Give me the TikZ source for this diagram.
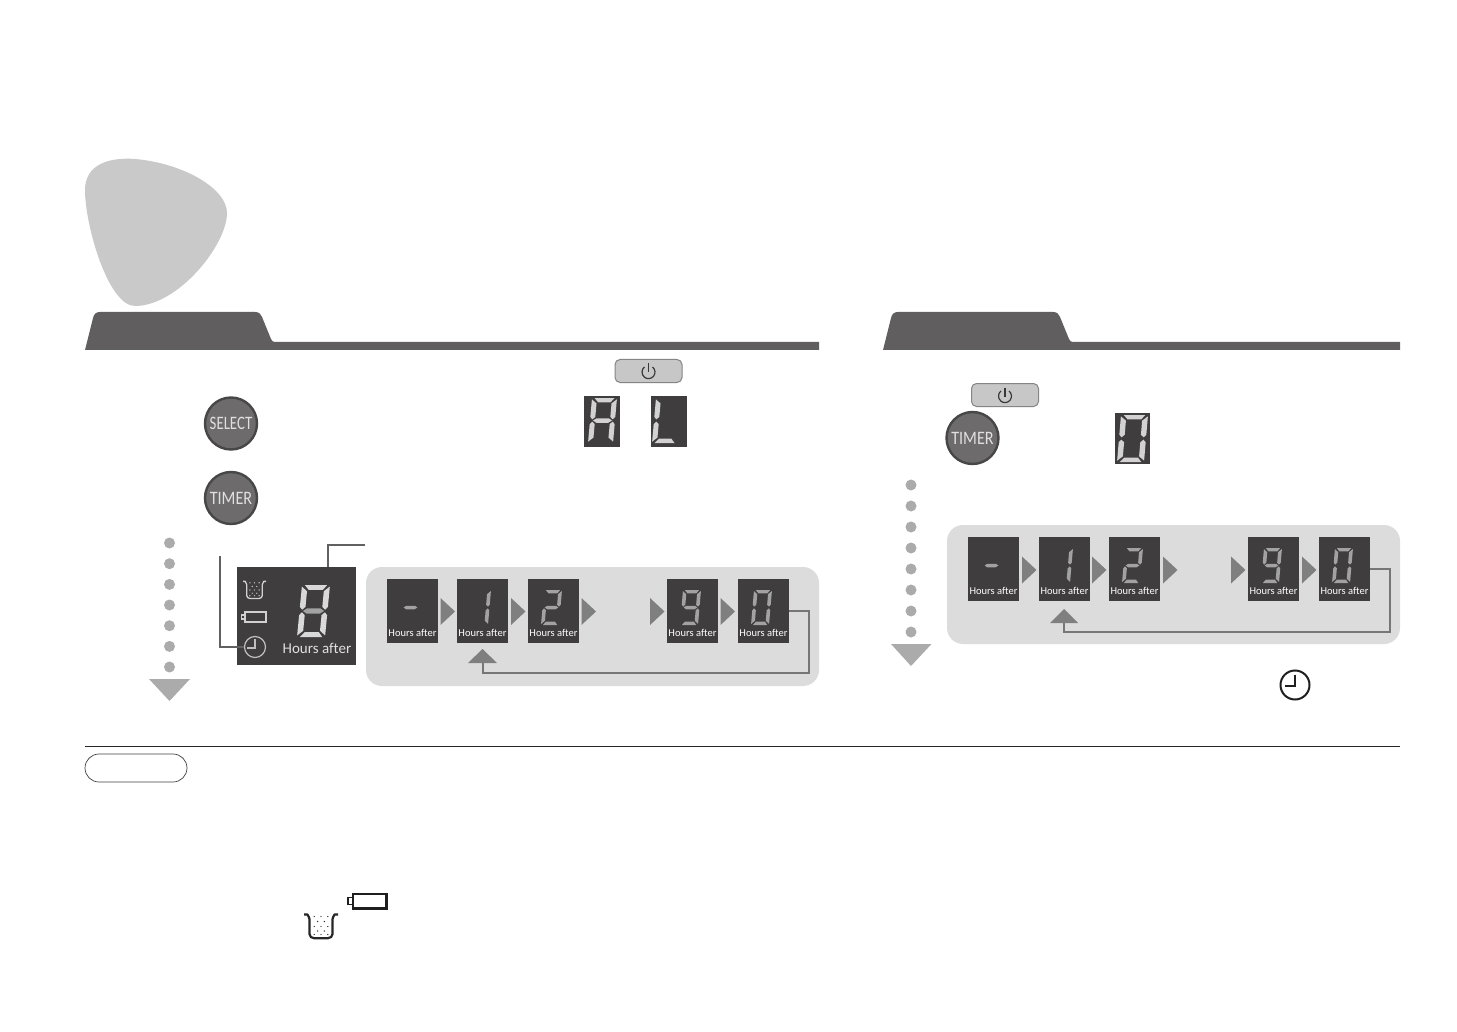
\documentclass[tikz,border=0pt]{standalone}
\usepackage{graphicx}
\usepackage{fontspec}
\setmainfont{Carlito}[Ligatures=CommonOff]
\definecolor{tabgrey}{HTML}{605E5F}
\definecolor{panelbg}{HTML}{3F3D3E}
\definecolor{boxbg}{HTML}{DCDCDC}
\definecolor{tri}{HTML}{7F7F7F}
\definecolor{dotgrey}{HTML}{ABABAB}
\definecolor{loopline}{HTML}{767676}
\definecolor{seglight}{HTML}{D2D2D2}
\definecolor{segdim}{HTML}{A2A2A2}
\tikzset{
  panel/.style={fill=panelbg,inner sep=0pt,outer sep=0pt,anchor=north west},
  smallpanel/.style={panel,minimum width=51pt,minimum height=64pt},
  sgl/.style={panel,minimum width=36pt,minimum height=51pt},
  hourstext/.style={text=white,font=\fontsize{10.5}{10.5}\selectfont,inner sep=0pt},
  roundbutton/.style={circle,fill=tabgrey!92!white,draw=black!72,line width=2.4pt,minimum size=52pt,inner sep=0pt,text=white!88!black,font=\fontsize{19}{19}\selectfont},
  powerbutton/.style={fill=black!22,draw=black!48,line width=1pt,rounded corners=5pt,minimum width=67pt,minimum height=23pt,inner sep=0pt},
  greybox/.style={fill=boxbg,rounded corners=16pt,inner sep=0pt,outer sep=0pt,anchor=north west,minimum width=453pt,minimum height=119pt},
  loop/.style={draw=loopline,line width=2pt},
  callout/.style={draw=black!62,line width=1.4pt},
  dotmark/.style={circle,fill=dotgrey,minimum size=11pt,inner sep=0pt},
  tab/.style={fill=tabgrey}
}
\def\sega{\path[fill=\segcol] (.1,0)--(.9,0)--(.76,.095)--(.26,.095)--cycle;}
\def\segb{\path[fill=\segcol] (1,.03)--(1,.42)--(.91,.475)--(.8,.42)--(.8,.12)--cycle;}
\def\segc{\path[fill=\segcol] (1,.97)--(1,.58)--(.91,.525)--(.8,.58)--(.8,.88)--cycle;}
\def\segd{\path[fill=\segcol] (.1,1)--(.9,1)--(.76,.905)--(.26,.905)--cycle;}
\def\sege{\path[fill=\segcol] (0,.97)--(0,.58)--(.09,.525)--(.2,.58)--(.2,.88)--cycle;}
\def\segf{\path[fill=\segcol] (0,.03)--(0,.42)--(.09,.475)--(.2,.42)--(.2,.12)--cycle;}
\def\segg{\path[fill=\segcol] (.12,.5)--(.26,.45)--(.74,.45)--(.88,.5)--(.74,.55)--(.26,.55)--cycle;}
% x,y,W,S,H,segments,colour
\newcommand\digitglyph[7]{%
  \begin{scope}[shift={(#1,#2)},x={(#3pt,0pt)},y={(-#4pt,-#5pt)}]
    \def\segcol{#7}%
    \foreach \s in {#6}{\csname seg\s\endcsname}
  \end{scope}}
% name,x,y,segments
\newcommand\hourspanel[4]{%
  \node[smallpanel] (#1) at (#2,#3) {};
  \digitglyph{#2+16}{#3+11}{18}{3}{35}{#4}{segdim}
  \node[hourstext] (#1t) at (#2+25.5,#3+54) {Hours after};}
\newcommand\rarrow[2]{\fill[tri] (#1,#2-13.5)--(#1+14.5,#2)--(#1,#2+13.5)--cycle;}
\newcommand\clockicon[5]{% x y r colour width
  \draw[#4,line width=#5pt] (#1,#2) circle (#3pt);
  \draw[#4,line width=#5pt] (#1,#2-.72*#3)--(#1,#2+.1*#3)--(#1-.72*#3,#2+.1*#3);}
\newcommand\poticon[6]{% x y w h colour lw
  \begin{scope}[shift={(#1,#2)},x={(#3pt,0pt)},y={(0pt,-#4pt)}]
    \draw[#5,line width=#6pt,line join=round] (0,0.02)--(.1,.02) to[out=-70,in=90] (.16,.2)--(.16,.8) to[out=-90,in=180] (.3,.97)--(.7,.97) to[out=0,in=-90] (.84,.8)--(.84,.2) to[out=90,in=-110] (.9,.02)--(1,.02);
    \foreach \px/\py in {.3/.1,.5/.1,.7/.1,.4/.3,.6/.3,.3/.5,.5/.5,.7/.5,.4/.68,.6/.68,.3/.82,.5/.82,.7/.82}
      \fill[#5] (\px,\py) circle (.7pt);
  \end{scope}}
\newcommand\powericon[3]{% x y colour
  \draw[#3,line width=1.2pt] (#1+4,#2-5) arc[start angle=52,end angle=-232,radius=6.5pt];
  \draw[#3,line width=1.2pt] (#1,#2-8.5)--(#1,#2+.5);}
\begin{document}
\begin{tikzpicture}[x=1pt,y=-1pt]
\useasboundingbox[fill=white] (0,0) rectangle (1457,1032);
% blob
\fill[black!21] (85,190) .. controls (85,165) and (108,157) .. (135,159) .. controls (182,163) and (227,188) .. (227,213) .. controls (227,245) and (178,306) .. (135,306) .. controls (108,306) and (85,225) .. (85,190) -- cycle;
% header tabs
\fill[tab] (85,350) -- (93,318) .. controls (94,314) and (96,312) .. (100,312) -- (255,312) .. controls (259,312) and (261,314) .. (262,317) -- (271,339) .. controls (272,341) and (273,342) .. (275,342) -- (819,342) -- (819,350) -- cycle;
\fill[tab] (883,350) -- (891,318) .. controls (892,314) and (894,312) .. (898,312) -- (1053,312) .. controls (1057,312) and (1059,314) .. (1060,317) -- (1069,339) .. controls (1070,341) and (1071,342) .. (1073,342) -- (1400,342) -- (1400,350) -- cycle;
% power buttons
\node[powerbutton] (powerL) at (648.5,371) {};
\powericon{648.5}{372}{black!78}
\node[powerbutton] (powerR) at (1005,395) {};
\powericon{1005}{396}{black!78}
% round buttons
\node[roundbutton] (selectL) at (231,423.5) {\raisebox{-1pt}{\scalebox{.78}[1]{SELECT}}};
\node[roundbutton] (timerL) at (231,498) {\raisebox{-1pt}{\scalebox{.85}[1]{TIMER}}};
\node[roundbutton] (timerR) at (972.5,438) {\raisebox{-1pt}{\scalebox{.85}[1]{TIMER}}};
% A, L, 0 displays
\node[sgl] (dispA) at (584,396) {};
\digitglyph{592}{398}{25}{4}{45}{a,b,c,e,f,g}{seglight}
\node[sgl] (dispL) at (651,396) {};
\digitglyph{656}{398}{25}{4}{45}{d,e,f}{seglight}
\node[sgl,minimum width=35pt] (dispZ) at (1115,413) {};
\digitglyph{1121}{415}{27}{4}{47}{a,b,c,d,e,f}{seglight}
% left dots
\foreach \i/\yy in {1/543,2/563.7,3/584.4,4/605,5/625.7,6/646.4,7/667}
  \node[dotmark] (ldot\i) at (169.5,\yy) {};
\fill[dotgrey] (149,679)--(190,679)--(169.5,701)--cycle;
% big panel
\node[panel,minimum width=119pt,minimum height=98pt] (big) at (237,567) {};
\digitglyph{302}{585}{28}{5}{52}{a,b,c,d,e,f}{white!85!black}
\digitglyph{302}{585}{28}{5}{52}{g}{segdim}
\node[text=white!88!black,font=\fontsize{15}{15}\selectfont,inner sep=0pt] (bigt) at (317,648) {Hours after};
\poticon{243}{581}{23}{18}{white!82!black}{1.3}
\draw[white!82!black,line width=1.2pt] (245,612) rectangle (266,622);
\draw[white!82!black,line width=1.2pt] (245,615)--(241.5,615)--(241.5,619)--(245,619);
\clockicon{255}{647}{10.5}{white!75!black}{1.2}
% callouts
\coordinate (calloutA) at (365,545);
\coordinate (calloutB) at (220,556);
\coordinate (clockend) at (244,647);
\draw[callout] (calloutA) -| (328,567);
\draw[callout] (calloutB) |- (clockend);
% left box
\node[greybox] (boxL) at (366,567) {};
\hourspanel{a1}{387}{579}{g}
\hourspanel{a2}{457}{579}{b,c}
\hourspanel{a3}{528}{579}{a,b,d,e,g}
\hourspanel{a4}{667}{579}{a,b,c,d,f,g}
\hourspanel{a5}{738}{579}{a,b,c,d,e,f}
\rarrow{440.5}{611.5}
\rarrow{511}{611.5}
\rarrow{581.5}{611.5}
\rarrow{650}{611.5}
\rarrow{720.5}{611.5}
\fill[tri] (468,663)--(497,663)--(482.5,649)--cycle;
\coordinate (loopendL) at (482.5,663);
\draw[loop] (a5.east) -| (809,673) -| (loopendL);
% right dots
\foreach \i/\yy in {1/485,2/506,3/527,4/548,5/569,6/590,7/611,8/632}
  \node[dotmark] (rdot\i) at (911,\yy) {};
\fill[dotgrey] (891,644)--(931.5,644)--(911,666)--cycle;
% right box
\node[greybox] (boxR) at (947,525) {};
\hourspanel{b1}{968}{537}{g}
\hourspanel{b2}{1039}{537}{b,c}
\hourspanel{b3}{1109}{537}{a,b,d,e,g}
\hourspanel{b4}{1248}{537}{a,b,c,d,f,g}
\hourspanel{b5}{1319}{537}{a,b,c,d,e,f}
\rarrow{1022}{570}
\rarrow{1092}{570}
\rarrow{1163}{570}
\rarrow{1231}{570}
\rarrow{1302}{570}
\fill[tri] (1050,623)--(1078,623)--(1064,609)--cycle;
\coordinate (loopendR) at (1064,623);
\draw[loop] (b5.east) -| (1390,632) -| (loopendR);
% standalone clock
\clockicon{1295}{685}{14.5}{black!88}{2}
% rule and note pill
\coordinate (ruleL) at (85,746);
\coordinate (ruleR) at (1400,746);
\draw[black!85,line width=.9pt] (ruleL) -- (ruleR);
\node[draw=black!75,line width=.7pt,rounded corners=14pt,minimum width=102pt,minimum height=28pt,inner sep=0pt,fill=white] (note) at (136,768) {};
% bottom icons
\draw[black!88,line width=2.2pt] (353,894) rectangle (386.5,908.5);
\draw[black!88,line width=1.6pt] (352,897.5)--(348,897.5)--(348,904.5)--(352,904.5);
\poticon{304}{914}{34}{25}{black!85}{2.2}
\end{tikzpicture}
\end{document}
